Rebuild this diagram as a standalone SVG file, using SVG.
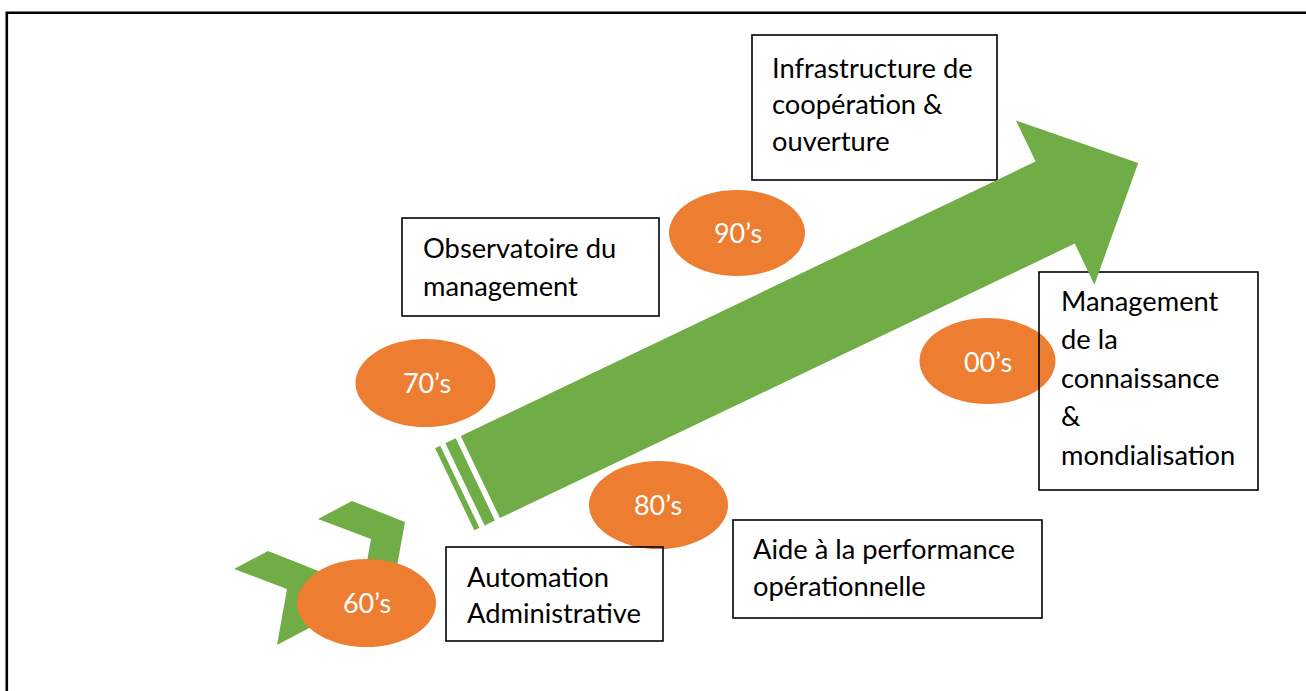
<svg xmlns="http://www.w3.org/2000/svg" width="1306" height="691" viewBox="0 0 1306 691">
  <defs>
    <style>
      .frame { stroke: #000; stroke-width: 2.6; fill: none; }
      .box { fill: none; stroke: #000; stroke-width: 1.6; }
      .label { font-family: Lato, "Open Sans", "Liberation Sans", sans-serif; font-size: 27.3px; fill: #000; }
      .era { fill: #ED7D31; }
      .era-text { font-family: Lato, "Open Sans", "Liberation Sans", sans-serif; font-size: 27px; fill: #fff; text-anchor: middle; }
      .green { fill: #70AD47; }
    </style>
  </defs>

  <rect width="1306" height="691" fill="#fff"/>

  <!-- page frame (top and left rules) -->
  <path class="frame" d="M6.8 691 V12.8 H1306"/>

  <!-- starting chevrons -->
  <g id="start-chevrons">
    <polygon class="green" points="234,569 268,551 321,572 311,627 277,645 287,589"/>
    <polygon class="green" points="318,519 352,501 405,522 395,577 361,595 371,539"/>
  </g>

  <!-- decade bubbles -->
  <g id="era-60s">
    <ellipse class="era" cx="366.5" cy="603" rx="69.5" ry="44"/>
    <text class="era-text" x="367" y="613">60’s</text>
  </g>
  <g id="era-70s">
    <ellipse class="era" cx="425.5" cy="383" rx="70" ry="44"/>
    <text class="era-text" x="427" y="393">70’s</text>
  </g>
  <g id="era-80s">
    <ellipse class="era" cx="658.5" cy="505" rx="69.5" ry="44"/>
    <text class="era-text" x="658" y="515">80’s</text>
  </g>
  <g id="era-90s">
    <ellipse class="era" cx="737" cy="233" rx="68" ry="43"/>
    <text class="era-text" x="738" y="243">90’s</text>
  </g>
  <g id="era-00s">
    <ellipse class="era" cx="987.5" cy="361" rx="68" ry="43"/>
    <text class="era-text" x="988" y="372">00’s</text>
  </g>

  <!-- labelled boxes -->
  <g id="box-automation">
    <rect class="box" x="446" y="547" width="217" height="94"/>
    <text class="label" x="467" y="587">Automation</text>
    <text class="label" x="467" y="623">Administrative</text>
  </g>
  <g id="box-observatoire">
    <rect class="box" x="402" y="218" width="257" height="98"/>
    <text class="label" x="423" y="258">Observatoire du</text>
    <text class="label" x="423" y="296">management</text>
  </g>
  <g id="box-aide">
    <rect class="box" x="733" y="520" width="309" height="98"/>
    <text class="label" x="753" y="559">Aide à la performance</text>
    <text class="label" x="753" y="596">opérationnelle</text>
  </g>
  <g id="box-infrastructure">
    <rect class="box" x="752" y="35" width="245" height="145"/>
    <text class="label" x="772" y="78">Infrastructure de</text>
    <text class="label" x="772" y="114">coopération &amp;</text>
    <text class="label" x="772" y="151">ouverture</text>
  </g>
  <g id="box-management">
    <rect class="box" x="1039" y="272" width="219" height="218"/>
    <text class="label" x="1061" y="311">Management</text>
    <text class="label" x="1061" y="349">de la</text>
    <text class="label" x="1061" y="388">connaissance</text>
    <text class="label" x="1061" y="426">&amp;</text>
    <text class="label" x="1061" y="465">mondialisation</text>
  </g>

  <!-- striped timeline arrow -->
  <g id="connectors">
    <g id="timeline-arrow" transform="translate(480.35 477) rotate(-25.52)">
      <rect class="green" x="-28.4" y="-45.5" width="5.7" height="91"/>
      <rect class="green" x="-17" y="-45.5" width="11.4" height="91"/>
      <polygon class="green" points="0,-45.5 637,-45.5 637,-91 729,0 637,91 637,45.5 0,45.5"/>
    </g>
  </g>
</svg>
